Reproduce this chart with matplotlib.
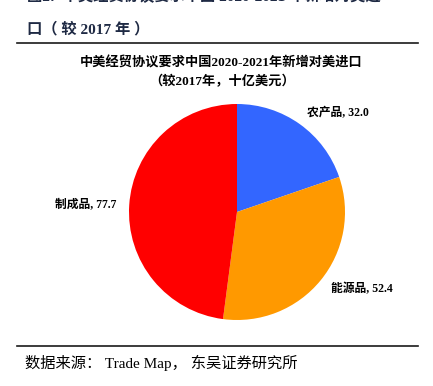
import matplotlib.pyplot as plt
from matplotlib.lines import Line2D

categories = ["农产品", "能源品", "制成品"]
values = [32.0, 52.4, 77.7]
colors = ["#3366FF", "#FF9900", "#FF0000"]

fonts = ["Liberation Serif", "Noto Sans CJK SC"]
plt.rcParams["font.family"] = fonts

fig = plt.figure(figsize=(4.33, 3.86), dpi=100)

# report header, first line cut by the top edge
fig.text(0.062, 1.0 + 0.008, "图2:  中美经贸协议要求中国 2020-2021 年新增对美进",
         fontsize=11, fontweight="bold", color="#1f2a44", va="center")
fig.text(0.062, 1 - 29 / 386, "口（ 较 2017 年 ）",
         fontsize=11, fontweight="bold", color="#1f2a44", va="center")
fig.add_artist(Line2D([17 / 433, 418 / 433], [1 - 43 / 386] * 2,
                      color="#1a1a1a", linewidth=1.2))

fig.text(221 / 433, 1 - 63 / 386, "中美经贸协议要求中国2020-2021年新增对美进口",
         fontsize=9.5, fontweight="bold", ha="center", va="center")
fig.text(222 / 433, 1 - 82 / 386, "（较2017年，十亿美元）",
         fontsize=9.5, fontweight="bold", ha="center", va="center")

size = 0.9
ax = fig.add_axes([237 / 433 - 108 / 433 / size, 1 - 212 / 386 - 108 / 386 / size,
                   216 / 433 / size, 216 / 386 / size])
labels = [f"{c}, {v:.1f}" for c, v in zip(categories, values)]
wedges, texts = ax.pie(values, colors=colors, startangle=90, counterclock=False,
                       labels=labels, labeldistance=1.12,
                       textprops={"fontsize": 8.5, "fontweight": "bold"})
ax.set_xlim(-1 / size, 1 / size)
ax.set_ylim(-1 / size, 1 / size)

fig.add_artist(Line2D([17 / 433, 418 / 433], [1 - 346 / 386] * 2,
                      color="#1a1a1a", linewidth=1.2))
fig.text(25 / 433, 1 - 363 / 386, "数据来源： Trade Map， 东吴证券研究所",
         fontsize=11, va="center")

fig.savefig("out.png", dpi=100)
